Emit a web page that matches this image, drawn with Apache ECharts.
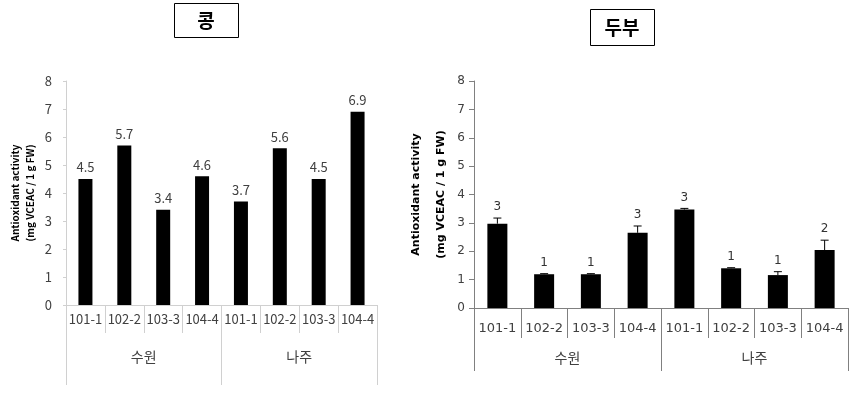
<!DOCTYPE html>
<html><head><meta charset="utf-8">
<script src="https://cdn.jsdelivr.net/npm/echarts@6/dist/echarts.min.js"></script>
<style>html,body{margin:0;padding:0;background:#fff}#c{width:855px;height:402px}</style>
</head><body><div id="c"></div>
<script>
const categories = ['101-1','102-2','103-3','104-4','101-1','102-2','103-3','104-4'];
const groups = ['수원','나주'];
const soyValues = [4.5, 5.7, 3.4, 4.6, 3.7, 5.6, 4.5, 6.9];
const tofuValues = [2.97, 1.19, 1.19, 2.65, 3.47, 1.40, 1.16, 2.04];
const tofuErrTop = [3.17, 1.21, 1.21, 2.89, 3.51, 1.42, 1.28, 2.39];
const tofuLabels = ['3','1','1','3','3','1','1','2'];
const yTicks = [0,1,2,3,4,5,6,7,8];
const yName = 'Antioxidant activity\n(mg VCEAC / 1 g FW)';

const chart = echarts.init(document.getElementById('c'));
const cjk = '"Noto Sans CJK KR", "Noto Sans", sans-serif';
const gul = '"DejaVu Sans", "Noto Sans CJK KR", sans-serif';

function catAxis(gi, color, font, size, margin, tickLen) {
  return {
    type: 'category', gridIndex: gi, data: categories, position: 'bottom',
    axisLine: {show: true, lineStyle: {color: color}},
    axisTick: {show: true, interval: 0, length: tickLen, inside: false, lineStyle: {color: color}},
    axisLabel: {interval: 0, margin: margin, color: '#404040', fontFamily: font, fontSize: size}
  };
}
function grpAxis(gi, color, font, size, margin, tickLen) {
  return {
    type: 'category', gridIndex: gi, data: groups, position: 'bottom',
    axisLine: {show: false},
    axisTick: {show: true, interval: 0, length: tickLen, lineStyle: {color: color}},
    axisLabel: {interval: 0, margin: margin, color: '#404040', fontFamily: font, fontSize: size}
  };
}

const option = {
  animation: false,
  backgroundColor: '#fff',
  grid: [
    {left: 66, right: 478, top: 81, bottom: 97, outerBoundsMode: 'none', containLabel: false},
    {left: 474, right: 7, top: 81, bottom: 94, outerBoundsMode: 'none', containLabel: false}
  ],
  xAxis: [
    catAxis(0, '#d0d0d0', cjk, 13, 8, 28),
    grpAxis(0, '#d0d0d0', cjk, 14, 45, 80),
    catAxis(1, '#808080', gul, 13, 14, 30),
    grpAxis(1, '#808080', gul, 14, 44, 63)
  ],
  yAxis: [
    {type: 'value', gridIndex: 0, min: yTicks[0], max: yTicks[yTicks.length-1], interval: 1,
     name: yName, nameLocation: 'middle', nameGap: 28, nameRotate: 90,
     nameTextStyle: {fontFamily: cjk, fontWeight: 'bold', fontSize: 10, color: '#000', lineHeight: 15},
     axisLine: {show: true, lineStyle: {color: '#d0d0d0'}},
     axisTick: {show: true, length: 3, lineStyle: {color: '#d0d0d0'}},
     axisLabel: {color: '#404040', fontFamily: cjk, fontSize: 13, margin: 14},
     splitLine: {show: false}},
    {type: 'value', gridIndex: 1, min: yTicks[0], max: yTicks[yTicks.length-1], interval: 1,
     name: yName, nameLocation: 'middle', nameGap: 19, nameRotate: 90,
     nameTextStyle: {fontFamily: gul, fontWeight: 'bold', fontSize: 11, color: '#000', lineHeight: 25},
     axisLine: {show: true, lineStyle: {color: '#808080'}},
     axisTick: {show: true, length: 5, lineStyle: {color: '#808080'}},
     axisLabel: {color: '#404040', fontFamily: gul, fontSize: 12, margin: 9},
     splitLine: {show: false}}
  ],
  series: [
    {type: 'bar', xAxisIndex: 0, yAxisIndex: 0, data: soyValues, barWidth: 14,
     itemStyle: {color: '#000'},
     label: {show: true, position: 'top', distance: 5, color: '#404040', fontFamily: cjk, fontSize: 13}},
    {type: 'bar', xAxisIndex: 2, yAxisIndex: 1, data: tofuValues, barWidth: 20,
     itemStyle: {color: '#000'}},
    {type: 'custom', xAxisIndex: 2, yAxisIndex: 1,
     data: tofuErrTop.map((t, i) => [i, tofuValues[i], t, tofuLabels[i]]),
     encode: {x: 0, y: [1, 2]},
     renderItem: function (params, api) {
       const i = api.value(0);
       const base = api.coord([i, api.value(1)]);
       const top = api.coord([i, api.value(2)]);
       const w = 4;
       return {type: 'group', children: [
         {type: 'line', shape: {x1: base[0], y1: base[1], x2: top[0], y2: top[1]}, style: {stroke: '#000', lineWidth: 1}},
         {type: 'line', shape: {x1: top[0]-w, y1: top[1], x2: top[0]+w, y2: top[1]}, style: {stroke: '#000', lineWidth: 1}},
         {type: 'text', x: top[0], y: top[1] - 5, style: {text: tofuLabels[params.dataIndex], align: 'center', verticalAlign: 'bottom', fill: '#333', font: '12px "DejaVu Sans", sans-serif'}}
       ]};
     }}
  ],
  graphic: [
    {type: 'rect', shape: {x: 174.5, y: 3.5, width: 64, height: 34}, style: {fill: '#fff', stroke: '#000', lineWidth: 1}},
    {type: 'text', x: 206, y: 21, style: {text: '콩', align: 'center', verticalAlign: 'middle', font: 'bold 19px "Noto Sans CJK KR", sans-serif', fill: '#000'}},
    {type: 'rect', shape: {x: 590.5, y: 9.5, width: 64, height: 36}, style: {fill: '#fff', stroke: '#000', lineWidth: 1}},
    {type: 'text', x: 622, y: 28, style: {text: '두부', align: 'center', verticalAlign: 'middle', font: 'bold 19px "Noto Sans CJK KR", sans-serif', fill: '#000'}}
  ]
};
chart.setOption(option);
</script></body></html>
